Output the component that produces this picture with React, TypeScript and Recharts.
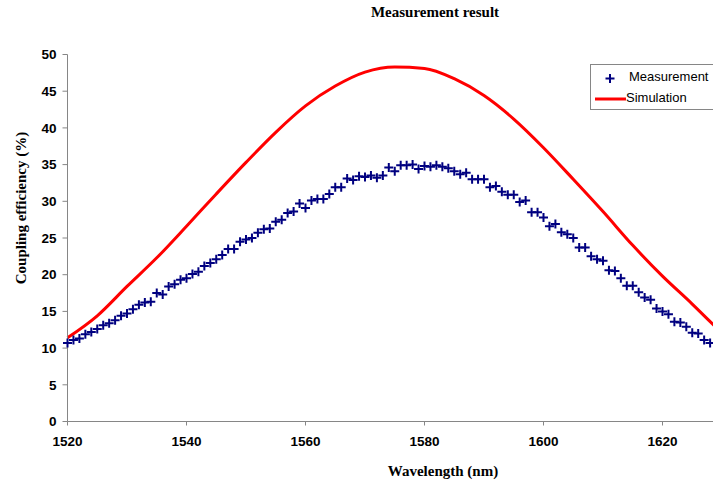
import {
  ComposedChart,
  Line,
  Scatter,
  XAxis,
  YAxis,
} from "recharts";

// wavelength (nm) for the measured points, 1 nm steps
const measWavelengths = [
  1520, 1521, 1522, 1523, 1524, 1525, 1526, 1527, 1528, 1529,
  1530, 1531, 1532, 1533, 1534, 1535, 1536, 1537, 1538, 1539,
  1540, 1541, 1542, 1543, 1544, 1545, 1546, 1547, 1548, 1549,
  1550, 1551, 1552, 1553, 1554, 1555, 1556, 1557, 1558, 1559,
  1560, 1561, 1562, 1563, 1564, 1565, 1566, 1567, 1568, 1569,
  1570, 1571, 1572, 1573, 1574, 1575, 1576, 1577, 1578, 1579,
  1580, 1581, 1582, 1583, 1584, 1585, 1586, 1587, 1588, 1589,
  1590, 1591, 1592, 1593, 1594, 1595, 1596, 1597, 1598, 1599,
  1600, 1601, 1602, 1603, 1604, 1605, 1606, 1607, 1608, 1609,
  1610, 1611, 1612, 1613, 1614, 1615, 1616, 1617, 1618, 1619,
  1620, 1621, 1622, 1623, 1624, 1625, 1626, 1627, 1628,
];

const measValues = [
  10.7, 11.1, 11.3, 11.9, 12.2, 12.6, 13.1, 13.4, 13.8, 14.4,
  14.7, 15.3, 15.9, 16.2, 16.3, 17.5, 17.3, 18.4, 18.7, 19.3,
  19.5, 20.1, 20.4, 21.2, 21.6, 22.1, 22.7, 23.5, 23.5, 24.5,
  24.8, 25.0, 25.7, 26.2, 26.3, 27.2, 27.5, 28.4, 28.6, 29.7,
  29.1, 30.1, 30.3, 30.3, 31.0, 31.9, 31.9, 33.1, 32.9, 33.4,
  33.3, 33.5, 33.2, 33.5, 34.6, 34.1, 34.9, 34.9, 35.0, 34.4,
  34.8, 34.7, 34.9, 34.7, 34.5, 34.1, 33.7, 33.9, 33.0, 33.0,
  33.0, 31.9, 32.1, 31.3, 30.9, 30.9, 29.9, 30.1, 28.5, 28.5,
  27.8, 26.6, 26.9, 25.8, 25.5, 25.0, 23.7, 23.7, 22.5, 22.1,
  21.9, 20.6, 20.5, 19.5, 18.5, 18.5, 17.6, 16.9, 16.6, 15.4,
  15.0, 14.6, 13.6, 13.5, 12.9, 12.1, 12.0, 11.1, 10.7,
];

const simWavelengths = [
  1520, 1525, 1530, 1535, 1540, 1545, 1550, 1555, 1560, 1565, 1570, 1575,
  1580, 1585, 1590, 1595, 1600, 1605, 1610, 1615, 1620, 1625, 1630,
];

const simValues = [
  11.4, 14.4, 18.4, 22.3, 26.6, 31.0, 35.3, 39.4, 43.0, 45.7, 47.6, 48.3,
  48.1, 46.7, 44.4, 41.2, 37.3, 33.0, 28.6, 24.0, 19.8, 16.0, 12.0,
];

const xTicks = [1520, 1540, 1560, 1580, 1600, 1620];
const yTicks = [0, 5, 10, 15, 20, 25, 30, 35, 40, 45, 50];

const measData = measWavelengths.map((x, i) => ({ x, y: measValues[i] }));
const simData = simWavelengths.map((x, i) => ({ x, y: simValues[i] }));

const axisColor = "#868686";
const tickStyle = {
  fill: "#000",
  fontSize: 13.5,
  fontWeight: 700,
  fontFamily: "'Liberation Sans', Arial, sans-serif",
};
const serifBold = {
  fontFamily: "'Liberation Serif', 'Times New Roman', serif",
  fontWeight: 700,
  fontSize: 15,
  color: "#000",
  position: "absolute" as const,
  whiteSpace: "nowrap" as const,
};

function PlusShape(props: any) {
  const { cx, cy } = props;
  if (cx == null || cy == null) return null;
  return (
    <path
      d={`M${cx - 4.5},${cy}H${cx + 4.5}M${cx},${cy - 4.5}V${cy + 4.5}`}
      stroke="#000080"
      strokeWidth={2}
      fill="none"
    />
  );
}

function LegendBox() {
  return (
    <div
      style={{
        position: "absolute",
        left: 590,
        top: 64,
        width: 140,
        height: 44,
        border: `1px solid ${axisColor}`,
        background: "#fff",
        fontFamily: "'Liberation Sans', Arial, sans-serif",
        fontSize: 13,
        color: "#000",
      }}
    >
      <svg
        width={40}
        height={44}
        style={{ position: "absolute", left: 0, top: 0 }}
      >
        <path
          d="M14.5,13.5H23.5M19,9V18"
          stroke="#000080"
          strokeWidth={2}
        />
        <line
          x1={4}
          y1={34}
          x2={35}
          y2={34}
          stroke="#ff0000"
          strokeWidth={3}
        />
      </svg>
      <span style={{ position: "absolute", left: 38, top: 4 }}>
        Measurement
      </span>
      <span style={{ position: "absolute", left: 35, top: 25 }}>
        Simulation
      </span>
    </div>
  );
}

export default function App() {
  return (
    <div
      style={{
        position: "absolute",
        left: 0,
        top: 0,
        width: 713,
        height: 485,
        overflow: "hidden",
        background: "#fff",
      }}
    >
      <ComposedChart
        width={800}
        height={485}
        margin={{ top: 54.5, right: 18.5, bottom: 33.5, left: 0 }}
      >
        <XAxis
          type="number"
          dataKey="x"
          domain={[1520, 1640]}
          ticks={xTicks}
          interval={0}
          allowDuplicatedCategory={false}
          height={30}
          tick={tickStyle}
          tickSize={4}
          tickMargin={11}
          stroke={axisColor}
          tickLine={{ stroke: axisColor }}
          axisLine={{ stroke: axisColor }}
        />
        <YAxis
          type="number"
          domain={[0, 50]}
          ticks={yTicks}
          interval={0}
          width={67.5}
          tick={tickStyle}
          tickSize={5}
          tickMargin={6}
          stroke={axisColor}
          tickLine={{ stroke: axisColor }}
          axisLine={{ stroke: axisColor }}
        />
        <Line
          data={simData}
          dataKey="y"
          type="monotone"
          stroke="#ff0000"
          strokeWidth={3}
          dot={false}
          activeDot={false}
          isAnimationActive={false}
        />
        <Scatter
          data={measData}
          dataKey="y"
          shape={PlusShape}
          isAnimationActive={false}
        />
      </ComposedChart>

      <LegendBox />

      <div
        style={{
          ...serifBold,
          left: 435,
          top: 12,
          transform: "translate(-50%, -50%)",
        }}
      >
        Measurement result
      </div>
      <div
        style={{
          ...serifBold,
          left: 443,
          top: 471,
          transform: "translate(-50%, -50%)",
        }}
      >
        Wavelength (nm)
      </div>
      <div
        style={{
          ...serifBold,
          left: 21,
          top: 208,
          transform: "translate(-50%, -50%) rotate(-90deg)",
        }}
      >
        Coupling efficiency (%)
      </div>
    </div>
  );
}
